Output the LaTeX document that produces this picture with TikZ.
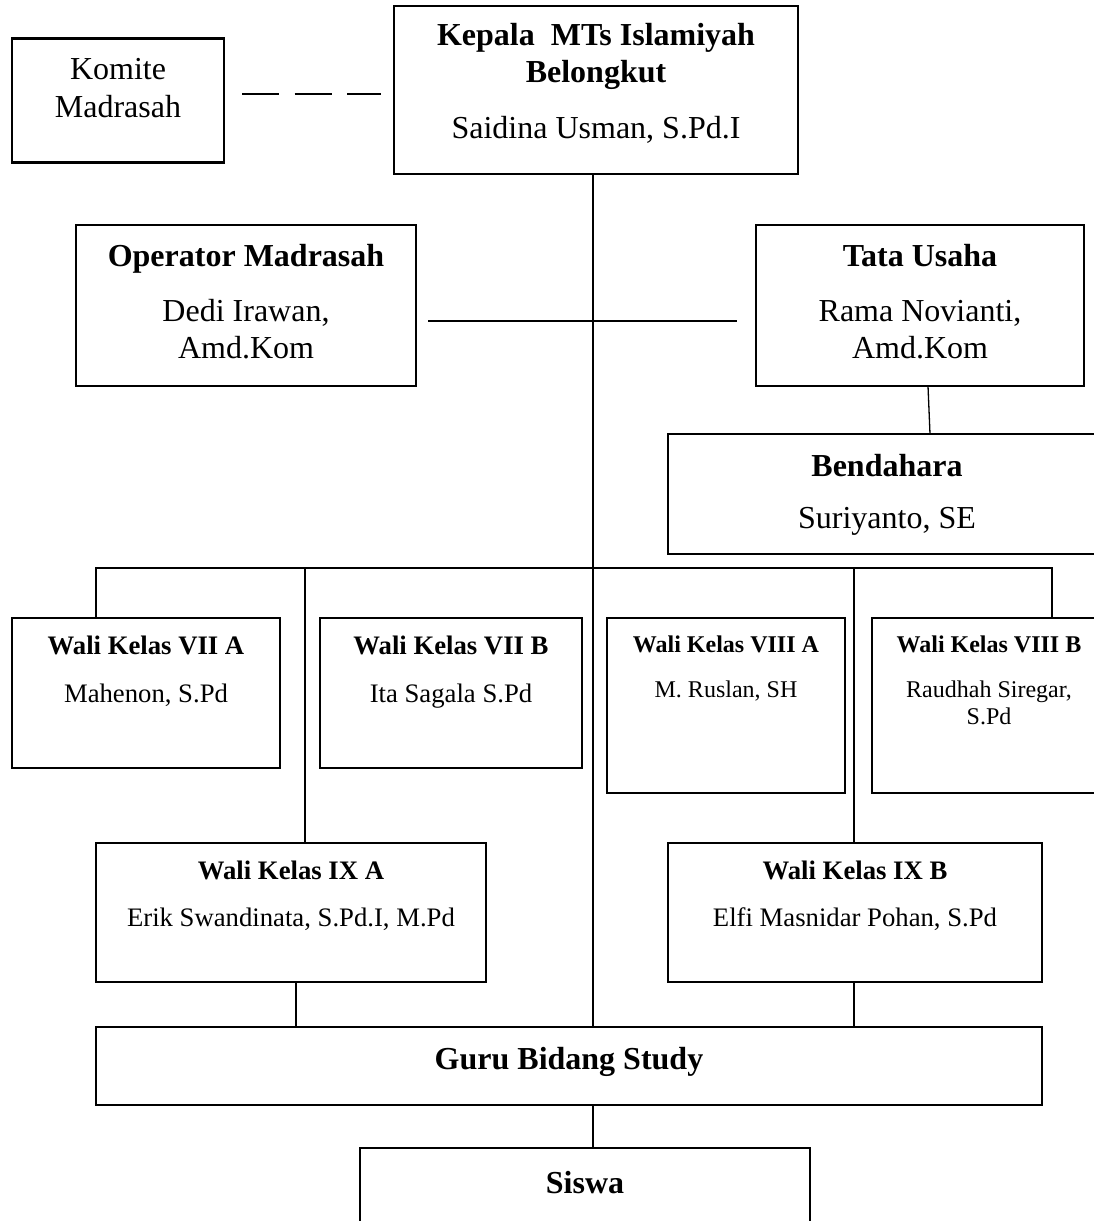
\documentclass[tikz,border=0pt]{standalone}
\usepackage{fontspec}
\setmainfont{Liberation Serif}
\begin{document}
\begin{tikzpicture}[x=1pt,y=-1pt]
\tikzstyle{box}=[draw, rectangle, line width=2.2pt, inner sep=0pt, outer sep=0pt]
\tikzstyle{big}=[anchor=base, inner sep=0pt, font=\fontsize{32}{37}\selectfont]
\tikzstyle{bigbold}=[anchor=base, inner sep=0pt, font=\fontsize{32}{37}\selectfont\bfseries]
\tikzstyle{mid}=[anchor=base, inner sep=0pt, font=\fontsize{26.7}{31}\selectfont]
\tikzstyle{midbold}=[anchor=base, inner sep=0pt, font=\fontsize{26.7}{31}\selectfont\bfseries]
\tikzstyle{small}=[anchor=base, inner sep=0pt, font=\fontsize{24}{28}\selectfont]
\tikzstyle{smallbold}=[anchor=base, inner sep=0pt, font=\fontsize{24}{28}\selectfont\bfseries]
\tikzstyle{link}=[line width=1.8pt]

% page frame
\useasboundingbox (0,0) rectangle (1094,1221);
\clip (0,0) rectangle (1094,1221);

% top row
\node[box, minimum width=212pt, minimum height=124pt] (komite) at (118,100.5) {};
\node[big] (komite1) at (118,79) {Komite};
\node[big] (komite2) at (118,117) {Madrasah};

\node[box, minimum width=404pt, minimum height=168pt] (kepala) at (596,90) {};
\node[bigbold] (kepala1) at (596,45) {Kepala\ \ MTs Islamiyah};
\node[bigbold] (kepala2) at (596,82) {Belongkut};
\node[big] (kepala3) at (596,138) {Saidina Usman, S.Pd.I};

% staff
\node[box, minimum width=340pt, minimum height=161pt] (operator) at (246,305.5) {};
\node[bigbold] (operator1) at (246,266) {Operator Madrasah};
\node[big] (operator2) at (246,321) {Dedi Irawan,};
\node[big] (operator3) at (246,358) {Amd.Kom};

\node[box, minimum width=328pt, minimum height=161pt] (tata) at (920,305.5) {};
\node[bigbold] (tata1) at (920,266) {Tata Usaha};
\node[big] (tata2) at (920,321) {Rama Novianti,};
\node[big] (tata3) at (920,358) {Amd.Kom};

\node[box, minimum width=438pt, minimum height=120pt] (bendahara) at (887,494) {};
\node[bigbold] (bendahara1) at (887,476) {Bendahara};
\node[big] (bendahara2) at (887,528) {Suriyanto, SE};

% wali kelas
\node[box, minimum width=268pt, minimum height=150pt] (sevenA) at (146,693) {};
\node[midbold] (sevenA1) at (146,654) {Wali Kelas VII A};
\node[mid] (sevenA2) at (146,702) {Mahenon, S.Pd};

\node[box, minimum width=262pt, minimum height=150pt] (sevenB) at (451,693) {};
\node[midbold] (sevenB1) at (451,654) {Wali Kelas VII B};
\node[mid] (sevenB2) at (451,702) {Ita Sagala S.Pd};

\node[box, minimum width=238pt, minimum height=175pt] (eightA) at (726,705.5) {};
\node[smallbold] (eightA1) at (726,652) {Wali Kelas VIII A};
\node[small] (eightA2) at (726,697) {M. Ruslan, SH};

\node[box, minimum width=234pt, minimum height=175pt] (eightB) at (989,705.5) {};
\node[smallbold] (eightB1) at (989,652) {Wali Kelas VIII B};
\node[small] (eightB2) at (989,697) {Raudhah Siregar,};
\node[small] (eightB3) at (989,724) {S.Pd};

\node[box, minimum width=390pt, minimum height=139pt] (nineA) at (291,912.5) {};
\node[midbold] (nineA1) at (291,879) {Wali Kelas IX A};
\node[mid] (nineA2) at (291,926) {Erik Swandinata, S.Pd.I, M.Pd};

\node[box, minimum width=374pt, minimum height=139pt] (nineB) at (855,912.5) {};
\node[midbold] (nineB1) at (855,879) {Wali Kelas IX B};
\node[mid] (nineB2) at (855,926) {Elfi Masnidar Pohan, S.Pd};

% bottom
\node[box, minimum width=946pt, minimum height=78pt] (guru) at (569,1066) {};
\node[bigbold] (guru1) at (569,1069) {Guru Bidang Study};

\node[box, minimum width=450pt, minimum height=92pt] (siswa) at (585,1194) {};
\node[bigbold] (siswa1) at (585,1193) {Siswa};

% lines
\coordinate (spine) at (593,0);
\coordinate (dashl) at (242,94);
\coordinate (dashr) at (381,94);
\coordinate (opl) at (428,321);
\coordinate (tul) at (737,321);
\coordinate (busl) at (96,568);
\coordinate (busr) at (1052,568);
\coordinate (dropa) at (305,568);
\coordinate (dropb) at (854,568);
\coordinate (dropc) at (296,0);

\draw[link, dash pattern=on 37pt off 15.5pt] (dashl) -- (dashr);
\draw[link] (kepala.south -| spine) -- (guru.north -| spine);
\draw[link] (opl) -- (tul);
\draw[line width=1.3pt] ([xshift=8pt]tata.south) -- ([xshift=43pt]bendahara.north);
\draw[link] (sevenA.north -| busl) -- (busl) -- (busr) -- (eightB.north -| busr);
\draw[link] (dropa) -- (nineA.north -| dropa);
\draw[link] (dropb) -- (nineB.north -| dropb);
\draw[link] (nineA.south -| dropc) -- (guru.north -| dropc);
\draw[link] (nineB.south -| dropb) -- (guru.north -| dropb);
\draw[link] (guru.south -| spine) -- (siswa.north -| spine);

\end{tikzpicture}
\end{document}
